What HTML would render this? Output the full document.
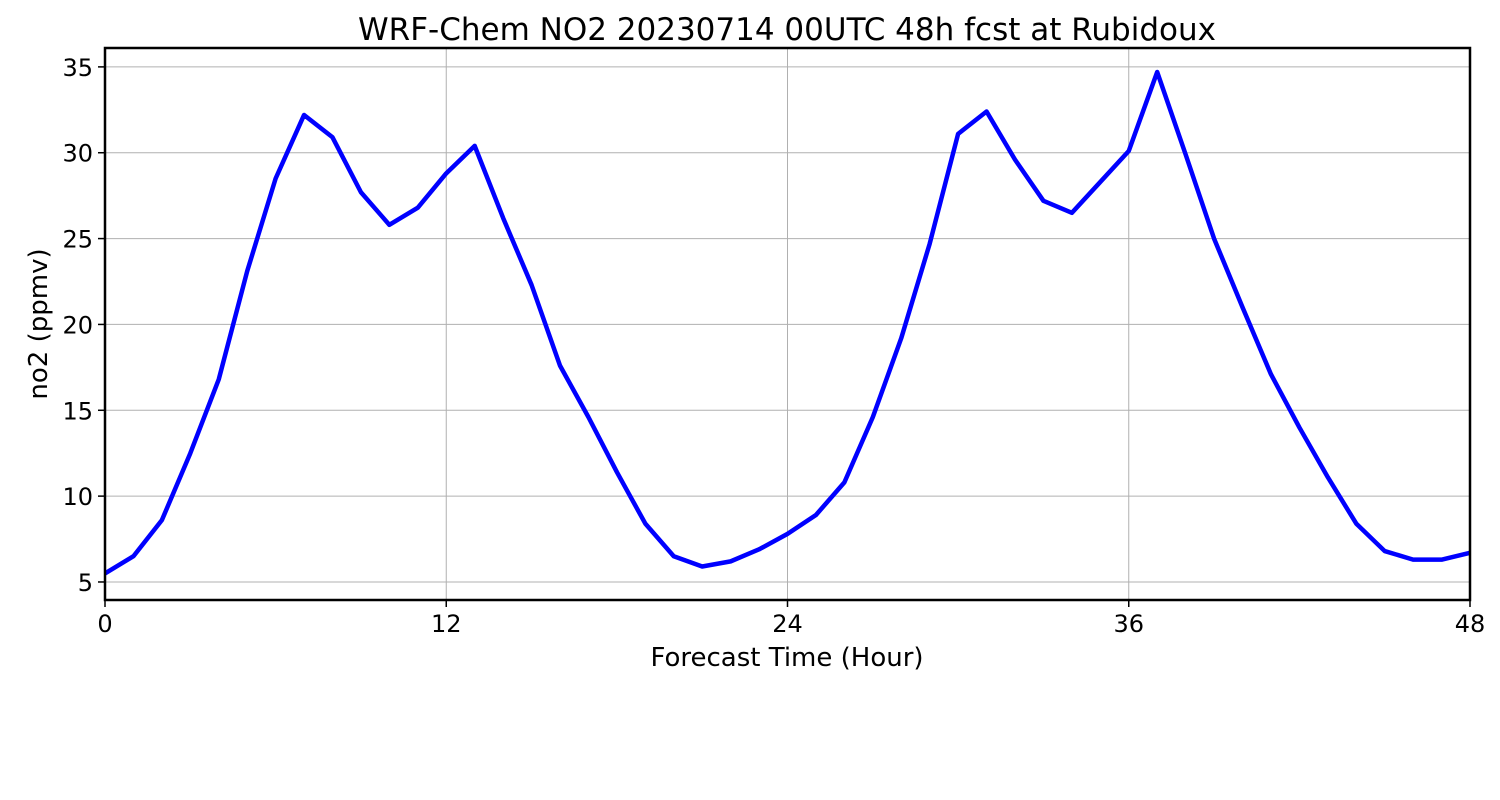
<!DOCTYPE html>
<html><head><meta charset="utf-8"><style>
body{margin:0;background:#fff;}
svg{display:block;font-family:"DejaVu Sans","Liberation Sans",sans-serif;}
</style></head><body>
<svg id="chart" width="1500" height="800" viewBox="0 0 1500 800">
<rect width="1500" height="800" fill="#fff"/>
<text x="787" y="40" font-size="31" text-anchor="middle">WRF-Chem NO2  20230714 00UTC 48h fcst at Rubidoux</text>
<g id="grid"></g>
<g id="ticks"></g>
<polyline id="line" fill="none" stroke="#0000ff" stroke-width="4.5" stroke-linejoin="round"/>
<rect x="105" y="48" width="1365" height="552" fill="none" stroke="#000" stroke-width="2.5"/>
<text x="787" y="666" font-size="26" text-anchor="middle">Forecast Time (Hour)</text>
<text transform="translate(47,324) rotate(-90)" font-size="26" text-anchor="middle">no2  (ppmv)</text>
</svg>
<script>
const no2Values=[5.5,6.5,8.6,12.5,16.8,23.1,28.5,32.2,30.9,27.7,25.8,26.8,28.8,30.4,26.2,22.3,17.6,14.6,11.4,8.4,6.5,5.9,6.2,6.9,7.8,8.9,10.8,14.6,19.2,24.7,31.1,32.4,29.6,27.2,26.5,28.3,30.1,34.7,29.9,25.0,21.0,17.1,14.0,11.1,8.4,6.8,6.3,6.3,6.7];
const xTicks=[0,12,24,36,48];
const yTicks=[5,10,15,20,25,30,35];
const X0=105,X1=1470,Y0=600,Y1=48,XMIN=0,XMAX=48,YMIN=3.95,YMAX=36.1;
const xs=v=>X0+(v-XMIN)/(XMAX-XMIN)*(X1-X0);
const ys=v=>Y0-(v-YMIN)/(YMAX-YMIN)*(Y0-Y1);
const NS="http://www.w3.org/2000/svg";
const grid=document.getElementById('grid'),ticks=document.getElementById('ticks');
function mk(tag,attrs,parent){const e=document.createElementNS(NS,tag);for(const k in attrs)e.setAttribute(k,attrs[k]);parent.appendChild(e);return e;}
xTicks.forEach(t=>{
 const x=xs(t);
 const g=mk('line',{x1:x,x2:x,y1:Y1,y2:Y0,stroke:'#b0b0b0','stroke-width':1},grid);
 
 
 const tk=mk('line',{x1:x,x2:x,y1:Y0,y2:Y0+7,stroke:'#000','stroke-width':1.5},ticks);
 
 
 const tx=mk('text',{x:x,y:Y0+32,'font-size':24,'text-anchor':'middle'},ticks);
 tx.textContent=t;
 
 
});
yTicks.forEach(t=>{
 const y=ys(t);
 const g=mk('line',{x1:X0,x2:X1,y1:y,y2:y,stroke:'#b0b0b0','stroke-width':1},grid);
 
 
 const tk=mk('line',{x1:X0-7,x2:X0,y1:y,y2:y,stroke:'#000','stroke-width':1.5},ticks);
 
 
 const tx=mk('text',{x:X0-12,y:y+9,'font-size':24,'text-anchor':'end'},ticks);
 tx.textContent=t;
 
 
});
document.getElementById('line').setAttribute('points',no2Values.map((v,i)=>xs(i)+','+ys(v)).join(' '));
</script>
</body></html>
